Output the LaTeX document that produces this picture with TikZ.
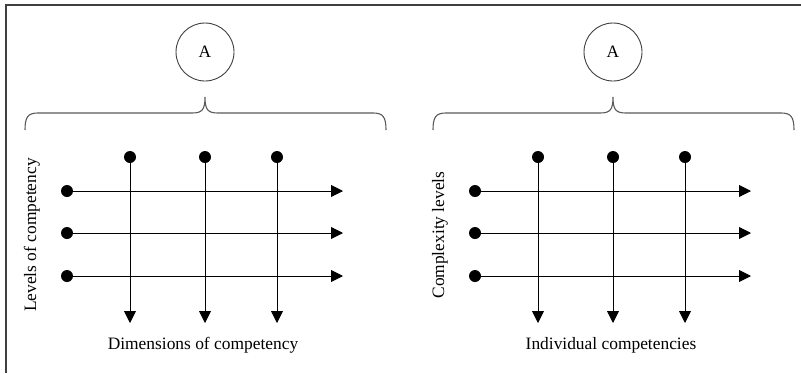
\documentclass[tikz,border=0pt]{standalone}
\usepackage{fontspec}
\setmainfont{Liberation Serif}
\usetikzlibrary{arrows.meta, positioning, calc}

\begin{document}
\begin{tikzpicture}[x=1pt, y=-1pt, font=\fontsize{17.4}{21}\selectfont,
    dot/.style={circle, fill=black, inner sep=0pt, minimum size=12pt},
    axis/.style={-{Triangle[length=12pt, width=12pt]}, line width=0.9pt},
    bracket/.style={draw=black!65, line width=1.1pt}]
\useasboundingbox (0,0) rectangle (801,373);

% Frame
\draw[line width=2pt, black!75] (6,373) -- (6,5) -- (801,5);

\foreach \p/\off/\side/\bottom in {l/0/Levels of competency/Dimensions of competency,
                                   r/408/Complexity levels/Individual competencies} {
\begin{scope}[xshift=\off]
   % Circle and brace
   \node[draw=black!75, circle, line width=0.9pt, minimum size=58pt, inner sep=0pt] (\p-A) at (205,52) {A};
   \draw[bracket] (25,130) .. controls (25,117) and (28,113) .. (38,113) -- (192,113)
      .. controls (202,113) and (205,110) .. (205,97)
      .. controls (205,110) and (208,113) .. (218,113) -- (373,113)
      .. controls (383,113) and (386,117) .. (386,130);

   % Columns
   \foreach \i/\x in {1/130, 2/205, 3/277} {
      \node[dot] (\p-v\i) at (\x,157) {};
      \coordinate (\p-v\i-end) at (\x,323);
      \draw[axis] (\p-v\i) -- (\p-v\i-end);
   }

   % Rows
   \foreach \j/\y in {1/191, 2/233, 3/276} {
      \node[dot] (\p-h\j) at (67,\y) {};
      \coordinate (\p-h\j-end) at (343,\y);
      \draw[axis] (\p-h\j) -- (\p-h\j-end);
   }

   % Axis labels
   \node[rotate=90] (\p-side) at (32,235) {\side};
   \node (\p-bottom) at (203,345) {\bottom};
\end{scope}
}
\end{tikzpicture}
\end{document}
